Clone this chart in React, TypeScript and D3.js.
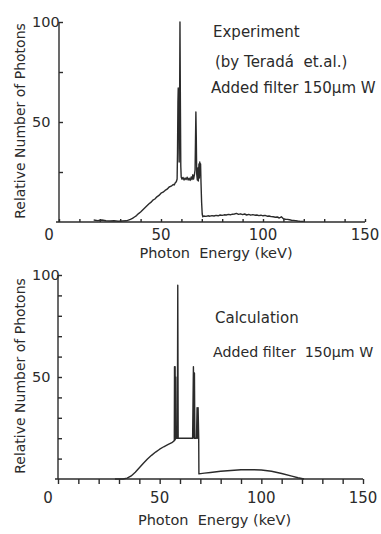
import React, { useEffect, useRef } from 'react';
import * as d3 from 'd3';

const expEnergy = [
  17, 19, 21, 23, 25, 27, 29, 31, 33, 34, 35, 36, 37, 38, 39, 40, 41, 42, 43, 44, 45, 46, 47, 48, 49, 50,
  51, 52, 53, 54, 55, 56, 56.5, 57, 57.5, 57.9, 58.1, 58.3, 58.45, 58.6, 58.75, 58.9, 59.1, 59.3, 59.5, 59.7,
  59.9, 60.3, 60.8, 61.3, 61.8, 62.3, 62.8, 63.3, 63.8, 64.3, 64.8, 65.2, 65.6, 66.0, 66.4, 66.7, 66.9, 67.1,
  67.3, 67.5, 67.8, 68.1, 68.3, 68.6, 68.8, 69.0, 69.2, 69.4, 69.6, 69.9, 70.2, 70.5, 71, 72, 73, 74, 75, 76,
  77, 78, 79, 80, 81, 82, 83, 84, 85, 86, 87, 88, 89, 90, 91, 92, 93, 94, 95, 96, 97, 98, 99, 100, 101, 102,
  103, 104, 105, 106, 107, 108, 109, 110, 111, 112, 113, 114, 115, 116, 117, 118, 120,
];
const expCounts = [
  1.0, 0.7, 1.0, 0.6, 0.5, 0.6, 0.4, 0.5, 0.6, 0.9, 1.3, 1.8, 2.5, 3.2, 4.2, 5.0, 6.0, 7.0, 8.0, 9.0, 9.8,
  10.9, 11.5, 12.6, 13.3, 14.4, 14.9, 15.8, 16.4, 17.5, 17.9, 18.8, 18.5, 19.6, 20.1, 21.5, 35, 60, 67, 45,
  62, 30, 55, 100, 60, 28, 22.5, 21.4, 22.3, 21.0, 22.0, 21.2, 22.4, 21.0, 21.9, 20.8, 22.5, 21.2, 23.6,
  21.5, 23.8, 26, 40, 55, 42, 24, 21, 27, 20.5, 29, 22, 30, 26, 29, 20, 10, 4, 2.6, 3.0, 2.8, 3.1, 2.9,
  3.2, 3.0, 3.3, 3.1, 3.5, 3.3, 3.6, 3.5, 3.8, 3.6, 3.9, 4.0, 4.3, 3.8, 4.1, 3.7, 4.0, 3.5, 3.8, 3.4, 3.7,
  3.4, 3.5, 3.2, 3.4, 3.1, 3.3, 2.9, 3.0, 2.7, 2.6, 2.4, 2.5, 2.0, 2.6, 1.6, 1.4, 1.3, 1.1, 0.9, 0.8, 0.7,
  0.5, 0.4, 0.3,
];

// calculated spectrum
const calcEnergy = [
  28, 32, 34, 36, 38, 40, 42, 44, 46, 48, 50, 52, 54, 56, 57.2, 57.3, 57.45, 57.6, 57.75, 57.9, 58.05, 58.7,
  58.9, 59.1, 66.2, 66.6, 66.9, 67.1, 67.3, 68.1, 68.4, 68.7, 68.9, 69.2, 69.3, 72, 75, 80, 85, 90, 95, 100,
  105, 110, 115, 118, 121,
];
const calcCounts = [
  0, 0, 0.4, 1.5, 3.3, 5.5, 7.7, 9.8, 11.6, 13.2, 14.6, 15.8, 16.8, 17.8, 18.8, 55, 19, 55, 19.5, 50, 20, 20,
  95, 20, 20, 55, 20, 52, 20, 20, 35, 20, 35, 20, 2.5, 2.9, 3.2, 3.8, 4.2, 4.5, 4.6, 4.4, 3.8, 2.7, 1.4, 0.6,
  0,
];

const xTickLabels = [0, 50, 100, 150];
const yTickLabels = [50, 100];
const topMinorY = [25, 50, 75, 100];

const INK = '#2b2b2b';
const FONT = "'DejaVu Sans', 'Noto Sans', sans-serif";

const App: React.FC = () => {
  const svgRef = useRef<SVGSVGElement>(null);

  useEffect(() => {
    const svg = d3.select(svgRef.current);
    svg.selectAll('*').remove();

    const panels = [
      {
        x0: 59, x1: 365, yTop: 22, yBot: 222,
        energy: expEnergy, counts: expCounts,
        xTickDir: -1, yMinor: topMinorY,
        notes: [
          { text: 'Experiment', x: 213, y: 37, size: 15 },
          { text: '(by Teradá  et.al.)', x: 215, y: 67, size: 15 },
          { text: 'Added filter 150µm W', x: 211, y: 93, size: 15 },
        ],
        labelY: 240,
        titleY: 258,
        yTitleC: 121,
      },
      {
        x0: 58, x1: 363, yTop: 275, yBot: 479,
        energy: calcEnergy, counts: calcCounts,
        xTickDir: 1, yMinor: d3.range(10, 101, 10),
        notes: [
          { text: 'Calculation', x: 215, y: 323, size: 15 },
          { text: 'Added filter  150µm W', x: 213, y: 357, size: 14.2 },
        ],
        labelY: 503,
        titleY: 525,
        yTitleC: 376,
      },
    ];

    panels.forEach(p => {
      const x = d3.scaleLinear().domain([0, 150]).range([p.x0, p.x1]);
      const y = d3.scaleLinear().domain([0, 100]).range([p.yBot, p.yTop]);
      const g = svg.append('g');

      // x axis with 10 keV ticks
      const xAxis = d3.axisBottom(x)
        .tickValues(d3.range(0, 151, 10))
        .tickSize(p.xTickDir > 0 ? 5 : -3)
        .tickFormat(() => '');
      g.append('g')
        .attr('transform', `translate(0,${p.yBot})`)
        .call(xAxis)
        .call(a => a.select('.domain').attr('d', `M${p.x0 - 3},0H${p.x1}`));

      // y axis, ticks inward
      const yAxis = d3.axisLeft(y)
        .tickValues(p.yMinor)
        .tickSize(-4)
        .tickFormat(() => '');
      g.append('g')
        .attr('transform', `translate(${p.x0},0)`)
        .call(yAxis)
        .call(a => a.select('.domain').attr('d', `M0,${p.yBot}V${p.yTop}`));

      g.selectAll('.domain, .tick line')
        .attr('stroke', INK)
        .attr('stroke-width', 1.4);

      // tick labels
      g.selectAll('.xlab')
        .data(xTickLabels)
        .enter().append('text')
        .attr('x', d => x(d) + (d === 0 ? -10 : 0))
        .attr('y', p.labelY)
        .attr('text-anchor', 'middle')
        .attr('font-family', FONT)
        .attr('font-size', 15)
        .attr('fill', INK)
        .text(d => d);

      g.selectAll('.ylab')
        .data(yTickLabels)
        .enter().append('text')
        .attr('x', 32)
        .attr('y', d => y(d) + 5)
        .attr('font-family', FONT)
        .attr('font-size', 14.5)
        .attr('fill', INK)
        .text(d => d);

      // axis titles
      g.append('text')
        .attr('x', (p.x0 + p.x1) / 2 + 4)
        .attr('y', p.titleY)
        .attr('text-anchor', 'middle')
        .attr('font-family', FONT)
        .attr('font-size', 14.5)
        .attr('fill', INK)
        .attr('xml:space', 'preserve')
        .text('Photon  Energy (keV)');

      g.append('text')
        .attr('transform', `translate(25,${p.yTitleC}) rotate(-90)`)
        .attr('text-anchor', 'middle')
        .attr('font-family', FONT)
        .attr('font-size', 14)
        .attr('fill', INK)
        .text('Relative Number of Photons');

      // spectrum
      const pts = p.energy.map((e, i) => [e, p.counts[i]] as [number, number]);
      const line = d3.line<[number, number]>()
        .x(d => x(d[0]))
        .y(d => y(d[1]));
      g.append('path')
        .datum(pts)
        .attr('d', line)
        .attr('fill', 'none')
        .attr('stroke', INK)
        .attr('stroke-width', 1.4)
        .attr('stroke-linejoin', 'round');

      // annotations
      p.notes.forEach(n => {
        g.append('text')
          .attr('x', n.x)
          .attr('y', n.y)
          .attr('font-family', FONT)
          .attr('font-size', n.size)
          .attr('fill', INK)
          .attr('xml:space', 'preserve')
          .text(n.text);
      });
    });
  }, []);

  return (
    <svg
      ref={svgRef}
      width={381}
      height={534}
      style={{ position: 'absolute', left: 0, top: 0, background: '#fff' }}
    />
  );
};

export default App;
